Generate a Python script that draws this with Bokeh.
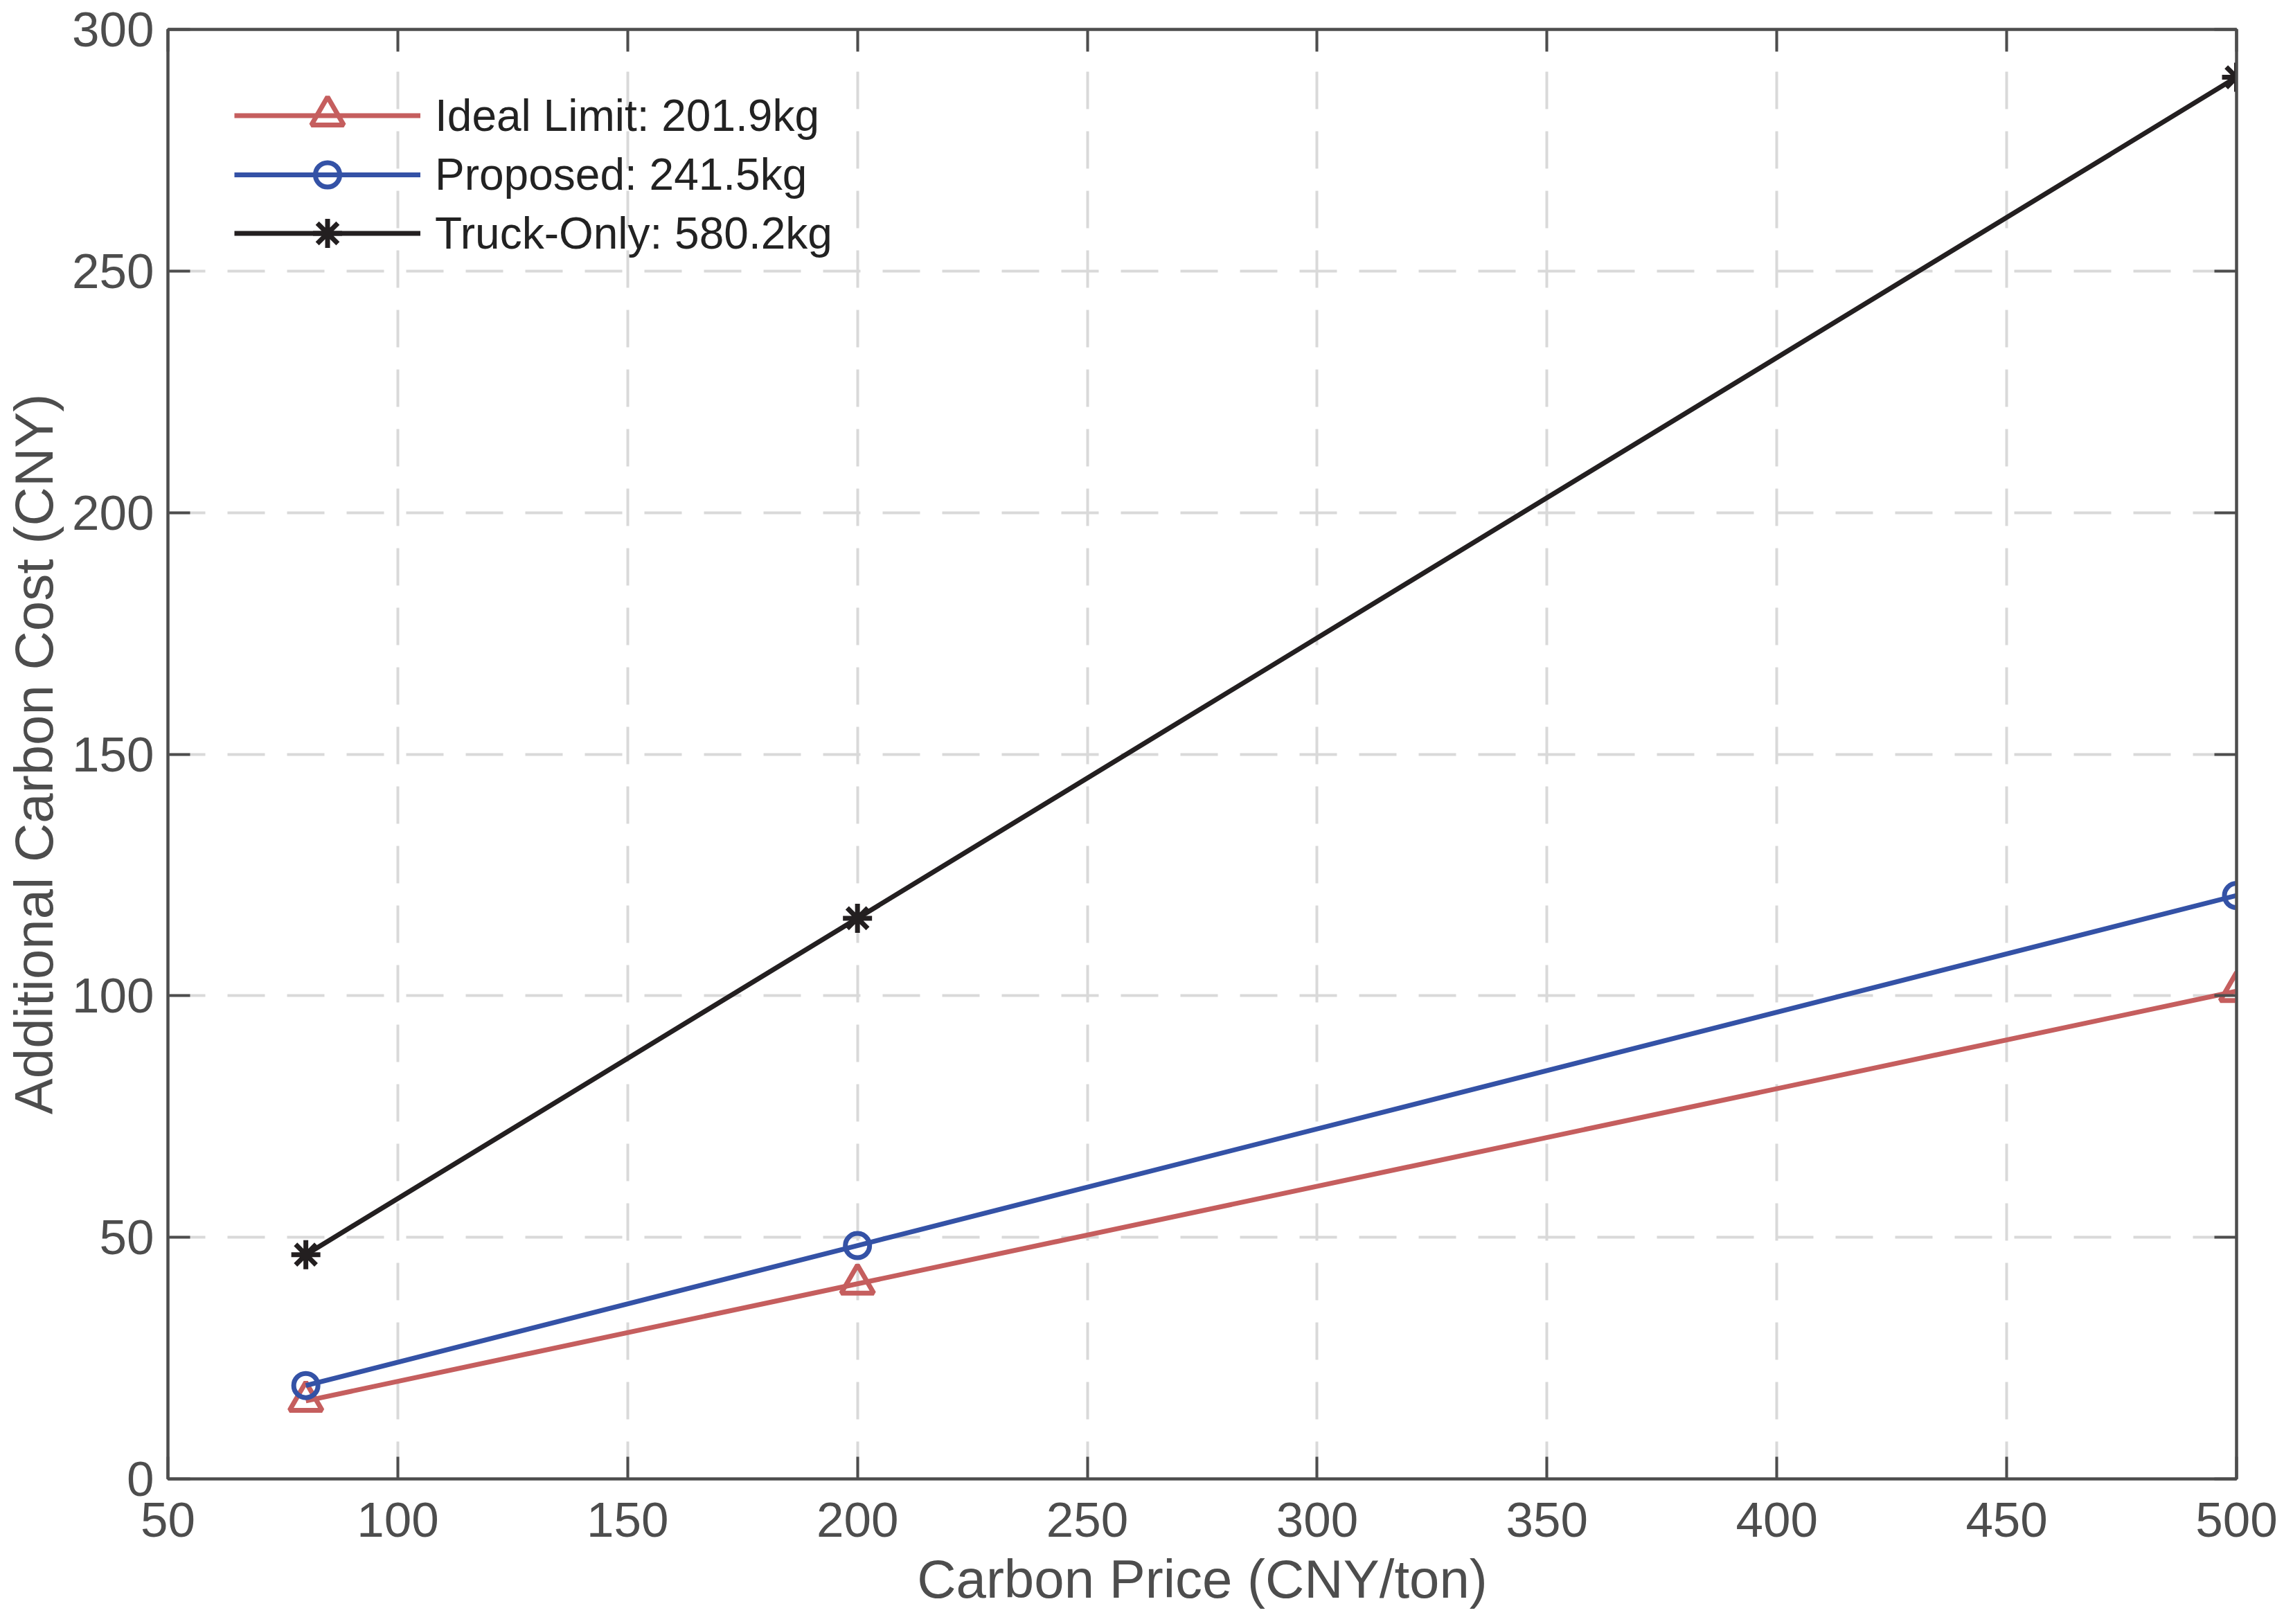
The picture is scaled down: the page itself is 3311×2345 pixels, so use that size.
from bokeh.plotting import figure
from bokeh.models import Range1d, LinearAxis, FixedTicker, Legend, LegendItem, AllLabels
from bokeh.embed import file_html
from bokeh.resources import INLINE

# ---- data ----
carbon_price = [80, 200, 500]
ideal_limit = [16.15, 40.38, 100.95]
proposed = [19.32, 48.30, 120.75]
truck_only = [46.42, 116.04, 290.10]

series_labels = ["Ideal Limit: 201.9kg", "Proposed: 241.5kg", "Truck-Only: 580.2kg"]
x_ticks = [50, 100, 150, 200, 250, 300, 350, 400, 450, 500]
y_ticks = [0, 50, 100, 150, 200, 250, 300]

FONT = "Liberation Sans"
AX = "#4d4d4d"

p = figure(width=3295, height=2329, output_backend="svg", toolbar_location=None,
           x_range=Range1d(50, 500), y_range=Range1d(0, 300),
           min_border_left=242, min_border_right=66, min_border_top=42, min_border_bottom=194,
           background_fill_color="white", border_fill_color="white")

p.outline_line_color = AX
p.outline_line_width = 4

def style_axis(ax, ticks):
    ax.ticker = FixedTicker(ticks=ticks)
    ax.axis_line_color = AX
    ax.axis_line_width = 4
    ax.major_tick_line_color = AX
    ax.major_tick_line_width = 4
    ax.major_tick_in = 32
    ax.major_tick_out = 0
    ax.minor_tick_line_color = None

xa = p.xaxis[0]
ya = p.yaxis[0]
style_axis(xa, x_ticks)
style_axis(ya, y_ticks)
for ax in (xa, ya):
    ax.major_label_policy = AllLabels()
    ax.major_label_text_font = FONT
    ax.major_label_text_color = AX
    ax.major_label_text_font_size = "71px"
    ax.axis_label_text_font = FONT
    ax.axis_label_text_font_size = "78px"
    ax.axis_label_text_font_style = "normal"
    ax.axis_label_text_color = AX
xa.axis_label = "Carbon Price (CNY/ton)"
ya.axis_label = "Additional Carbon Cost (CNY)"
xa.major_label_standoff = 34
xa.axis_label_standoff = 14
ya.major_label_standoff = 20
ya.axis_label_standoff = 8

top_ax = LinearAxis()
right_ax = LinearAxis()
p.add_layout(top_ax, "above")
p.add_layout(right_ax, "right")
style_axis(top_ax, x_ticks)
style_axis(right_ax, y_ticks)
for ax in (top_ax, right_ax):
    ax.major_label_overrides = {t: "" for t in (x_ticks if ax is top_ax else y_ticks)}
    ax.major_label_text_font_size = "2px"
    ax.major_label_text_alpha = 0
    ax.major_label_standoff = 0

for g in (p.xgrid, p.ygrid):
    g.grid_line_color = "#d9d9d9"
    g.grid_line_width = 4
    g.grid_line_dash = "54 32"
p.xgrid.ticker = FixedTicker(ticks=x_ticks)
p.ygrid.ticker = FixedTicker(ticks=y_ticks)

RED = "#c55e5e"
BLUE = "#3452a6"
BLACK = "#231f20"

l1 = p.line(carbon_price, ideal_limit, line_color=RED, line_width=7)
m1 = p.scatter(carbon_price, ideal_limit, marker="triangle", size=47, line_color=RED,
               line_width=7, fill_color=None)
l2 = p.line(carbon_price, proposed, line_color=BLUE, line_width=7)
m2 = p.scatter(carbon_price, proposed, marker="circle", size=35, line_color=BLUE,
               line_width=7, fill_color=None)
l3 = p.line(carbon_price, truck_only, line_color=BLACK, line_width=7)
m3 = p.scatter(carbon_price, truck_only, marker="asterisk", size=42, line_color=BLACK,
               line_width=7)

# (label, renderers, bottom offset from frame bottom, row height)
rows = [(series_labels[0], [l1, m1], 1910, 117),
        (series_labels[1], [l2, m2], 1839, 88),
        (series_labels[2], [l3, m3], 1746, 105)]
for label, rends, ypos, h in rows:
    lg = Legend(items=[LegendItem(label=label, renderers=rends)],
                location=(96, ypos), margin=0, padding=0, spacing=0,
                glyph_width=269, glyph_height=h, label_height=h, label_standoff=21,
                label_text_font=FONT, label_text_font_size="64px", label_text_color="#222222",
                background_fill_alpha=0, border_line_alpha=0)
    p.add_layout(lg, "center")

open("out.html", "w").write(file_html(p, INLINE))
